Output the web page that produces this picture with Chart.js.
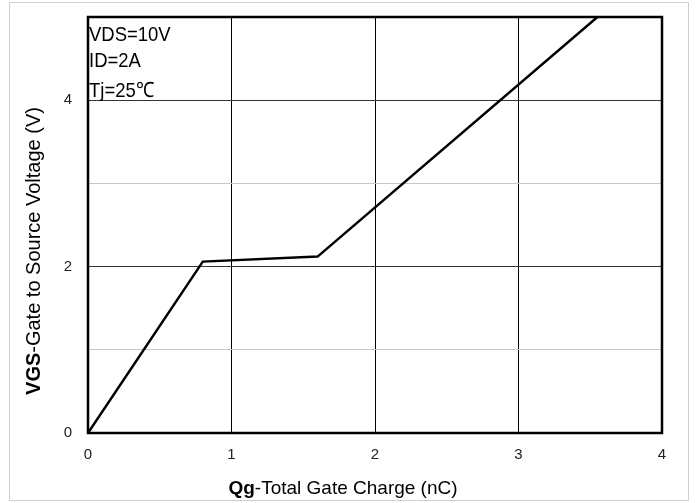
<!DOCTYPE html>
<html>
<head>
<meta charset="utf-8">
<script src="https://cdn.jsdelivr.net/npm/chart.js@4.4.0/dist/chart.umd.min.js"></script>
<style>
  html, body { margin: 0; padding: 0; background: #fff; }
  #wrap { width: 699px; height: 503px; position: relative; }
</style>
</head>
<body>
<div id="wrap"><canvas id="qgChart" width="699" height="503"></canvas></div>
<script>
/* ---- data ---- */
const qgValues = [0, 0.80, 1.60, 3.55];      // nC
const vgsValues = [0, 2.06, 2.12, 5.0];      // V
const xTicks = [0, 1, 2, 3, 4];
const yTicks = [0, 2, 4];
const conditions = ['VDS=10V', 'ID=2A', 'Tj=25\u2103'];

const FONT = "Arial, 'Liberation Sans', sans-serif";

// frame, outer border, condition text and axis titles (mixed bold)
const decorPlugin = {
    id: 'decor',
    beforeDraw(chart) {
        const ctx = chart.ctx;
        ctx.save();
        ctx.fillStyle = '#fff';
        ctx.fillRect(0, 0, chart.width, chart.height);
        ctx.strokeStyle = '#cfcfcf';
        ctx.lineWidth = 1;
        ctx.strokeRect(9.5, 2.5, 679, 498);
        ctx.restore();
    },
    afterDraw(chart) {
        const ctx = chart.ctx;
        const a = chart.chartArea;
        ctx.save();
        ctx.strokeStyle = '#000';
        ctx.lineWidth = 2.5;
        ctx.strokeRect(a.left, a.top, a.right - a.left, a.bottom - a.top);

        // test conditions (slightly condensed face)
        ctx.fillStyle = '#000';
        ctx.font = '21px ' + FONT;
        ctx.textBaseline = 'alphabetic';
        ctx.textAlign = 'left';
        const base = [41, 67, 97];
        conditions.forEach((t, i) => {
            ctx.save();
            ctx.translate(a.left + 1, base[i]);
            ctx.scale(0.88, 1);
            ctx.fillText(t, 0, 0);
            ctx.restore();
        });

        // x title
        drawMixed(ctx, 'Qg', '-Total Gate Charge (nC)', 343, 489, 0, 19);
        // y title
        drawMixed(ctx, 'VGS', '-Gate to Source Voltage (V)', 34, 251, -Math.PI / 2, 20);
        ctx.restore();
    }
};

function drawMixed(ctx, boldPart, normalPart, cx, cy, rot, size) {
    ctx.save();
    ctx.translate(cx, cy);
    ctx.rotate(rot);
    ctx.textBaseline = 'middle';
    ctx.textAlign = 'left';
    ctx.font = 'bold ' + size + 'px ' + FONT;
    const wb = ctx.measureText(boldPart).width;
    ctx.font = size + 'px ' + FONT;
    const wn = ctx.measureText(normalPart).width;
    const x0 = -(wb + wn) / 2;
    ctx.fillStyle = '#000';
    ctx.font = 'bold ' + size + 'px ' + FONT;
    ctx.fillText(boldPart, x0, 0);
    ctx.font = size + 'px ' + FONT;
    ctx.fillText(normalPart, x0 + wb, 0);
    ctx.restore();
}

new Chart(document.getElementById('qgChart'), {
    type: 'scatter',
    data: {
        datasets: [{
            data: qgValues.map((q, i) => ({ x: q, y: vgsValues[i] })),
            showLine: true,
            borderColor: '#000',
            borderWidth: 2.5,
            pointRadius: 0,
            tension: 0,
            fill: false
        }]
    },
    options: {
        responsive: false,
        animation: false,
        layout: { padding: { left: 0, top: 17, right: 37, bottom: 0 } },
        plugins: {
            legend: { display: false },
            tooltip: { enabled: false }
        },
        scales: {
            x: {
                type: 'linear',
                min: 0,
                max: 4,
                afterFit: s => { s.height = 70; s.paddingLeft = 0; s.paddingRight = 0; },
                afterBuildTicks: s => { s.ticks = xTicks.map(v => ({ value: v })); },
                grid: { color: '#000', lineWidth: 1, drawTicks: false },
                border: { display: false },
                ticks: { padding: 13, color: '#222', font: { size: 15, family: FONT } }
            },
            y: {
                type: 'linear',
                min: 0,
                max: 5,
                afterFit: s => { s.width = 88; s.paddingTop = 0; s.paddingBottom = 0; },
                ticks: {
                    stepSize: 1,
                    padding: 16,
                    color: '#222',
                    font: { size: 15, family: FONT },
                    callback: v => yTicks.includes(v) ? String(v) : ''
                },
                grid: {
                    drawTicks: false,
                    lineWidth: 1,
                    color: c => (c.tick && c.tick.value % 2 === 0) ? '#333' : '#c8c8c8'
                },
                border: { display: false }
            }
        }
    },
    plugins: [decorPlugin]
});
</script>
</body>
</html>
